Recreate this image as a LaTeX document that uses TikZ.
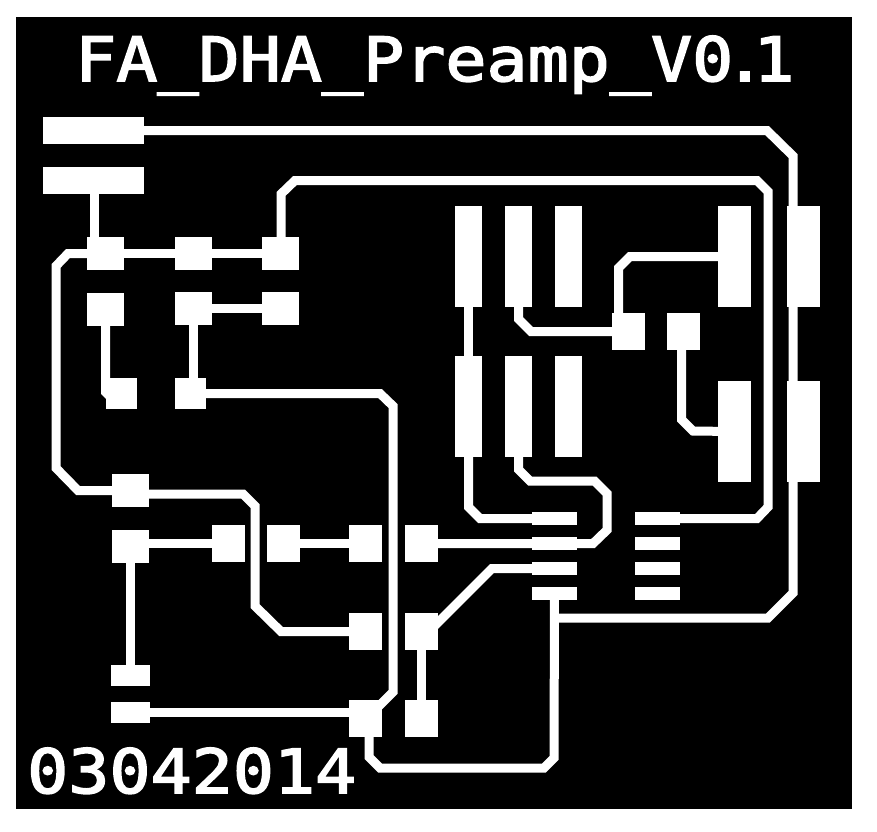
\documentclass[tikz,border=0pt]{standalone}
\usepackage{fontspec}
\newfontfamily\silkfont[FakeStretch=1.12,FakeBold=2.6]{DejaVu Sans Mono}
\tikzset{
  padbox/.style={fill=white,draw=none,inner sep=0pt,outer sep=0pt,rectangle},
  jack/.style={padbox,minimum width=101pt,minimum height=27pt},
  sqh/.style={padbox,minimum width=37pt,minimum height=33pt},
  sqv/.style={padbox,minimum width=33pt,minimum height=37pt},
  sqs/.style={padbox,minimum width=31pt,minimum height=31pt},
  tallnar/.style={padbox,minimum width=27pt,minimum height=101pt},
  tallwid/.style={padbox,minimum width=33pt,minimum height=101pt},
  icpad/.style={padbox,minimum width=45pt,minimum height=13pt},
  cappad/.style={padbox,minimum width=39pt,minimum height=21pt},
  trace/.style={draw=white,line width=9pt,line join=miter,line cap=butt},
  silk/.style={text=white,inner sep=0pt,anchor=base west,font=\silkfont\fontsize{61}{61}\selectfont},
}
\begin{document}
\begin{tikzpicture}[x=1pt,y=-1pt]
\useasboundingbox (0,0) rectangle (877,831);
\fill[white] (0,0) rectangle (877,831);
\fill[black] (16,17) rectangle (852,809);
% pads
\node[jack] (J1) at (93.5,130.5) {};
\node[jack] (J2) at (93.5,180.5) {};
\node[sqh] (P1) at (105.5,253.5) {};
\node[sqh] (P2) at (193.5,253.5) {};
\node[sqh] (P3) at (280.5,253.5) {};
\node[sqh] (P4) at (105.5,309.5) {};
\node[sqh] (P5) at (193.5,308.5) {};
\node[sqh] (P6) at (280.5,308.5) {};
\node[sqs] (P7) at (121.5,393.5) {};
\node[sqs] (P8) at (190.5,393.5) {};
\node[sqh] (P9) at (130.5,490.5) {};
\node[sqh] (P10) at (130.5,546.5) {};
\node[sqv] (P11) at (228.5,543.5) {};
\node[sqv] (P12) at (283.5,543.5) {};
\node[sqv] (P13) at (365.5,543.5) {};
\node[sqv] (P14) at (421.5,543.5) {};
\node[sqv] (P15) at (365.5,631.5) {};
\node[sqv] (P16) at (421.5,631.5) {};
\node[sqv] (P17) at (365.5,718.5) {};
\node[sqv] (P18) at (421.5,718.5) {};
\node[cappad] (C1) at (130.5,675.5) {};
\node[cappad] (C2) at (130.5,712.5) {};
\node[tallnar] (A1) at (468.5,256.5) {};
\node[tallnar] (A2) at (518.5,256.5) {};
\node[tallnar] (A3) at (568.5,256.5) {};
\node[tallnar] (B1) at (468.5,406.5) {};
\node[tallnar] (B2) at (518.5,406.5) {};
\node[tallnar] (B3) at (568.5,406.5) {};
\node[tallwid] (R1) at (734,256.5) {};
\node[tallwid] (R2) at (734,431.5) {};
\node[tallwid] (R3) at (803.5,256.5) {};
\node[tallwid] (R4) at (803.5,431.5) {};
\node[sqv] (M1) at (628.5,331.5) {};
\node[sqv] (M2) at (683.5,331.5) {};
\node[icpad] (L1) at (554.5,518.5) {};
\node[icpad] (L2) at (554.5,543.5) {};
\node[icpad] (L3) at (554.5,568.5) {};
\node[icpad] (L4) at (554.5,593.5) {};
\node[icpad] (E1) at (657.5,518.5) {};
\node[icpad] (E2) at (657.5,543.5) {};
\node[icpad] (E3) at (657.5,568.5) {};
\node[icpad] (E4) at (657.5,593.5) {};
% traces
\draw[trace] (J1.east) -- (767,130.5) -- (793,156) -- (793,593) -- (768,618) -- (554,618);
\draw[trace] (L4.center) -- (554,758) -- (544,768) -- (380,768) -- (369,757) -- (369,0 |- P17);
\draw[trace] (281,0 |- P3) -- (281,194) -- (295,180.5) -- (757,180.5) -- (768,191.5) -- (768,507) -- (757,518.5) -- (E1.east);
\draw[trace] (94,0 |- J2) -- (94,0 |- P1);
\draw[trace] (P1.center) -- (P2.center) -- (P3.center);
\draw[trace] (P1.center) -- (68,253.5) -- (56,266) -- (56,468) -- (78,490.5) -- (P9.center);
\draw[trace] (130.5,494) -- (243,494) -- (255,506) -- (255,606) -- (281,631.5) -- (P15.center);
\draw[trace] (105.5,0 |- P4) -- (105.5,392) -- (111,397.5) -- (P7.center);
\draw[trace] (P5.center) -- (P6.center);
\draw[trace] (P5.center) -- (P5 |- P8);
\draw[trace] (P8.center) -- (380,393.5) -- (393,406) -- (393,692) -- (370,715);
\draw[trace] (C2.center) -- (365,712.5);
\draw[trace] (P10.center) -- (C1.center);
\draw[trace] (P10 |- P11) -- (P11.center);
\draw[trace] (P12.center) -- (P13.center);
\draw[trace] (P14.center) -- (593,543.5) -- (607,530) -- (607,493.5) -- (594.5,481) -- (530,481) -- (518.5,469.5) -- (B2.center);
\draw[trace] (A1.center) -- (B1.center);
\draw[trace] (B1.center) -- (468.5,507) -- (480,518.5) -- (L1.center);
\draw[trace] (A2.center) -- (518.5,319) -- (531,331.5) -- (M1.center);
\draw[trace] (618.5,0 |- M1) -- (618.5,268) -- (630,256.5) -- (R1 |- 0,256.5);
\draw[trace] (681.5,0 |- M2) -- (681.5,419.5) -- (693,431) -- (R2.center);
\draw[trace] (L3.center) -- (492,568.5) -- (432,628.5) -- (P16.center);
\draw[trace] (P16.center) -- (P18.center);
% silk-screen text
\node[silk] (title) at (75,81) {FA\_DHA\_Preamp\_V0\kern-9pt.\kern-12pt 1};
\node[silk] (date) at (27,793) {03042014};
\end{tikzpicture}
\end{document}
